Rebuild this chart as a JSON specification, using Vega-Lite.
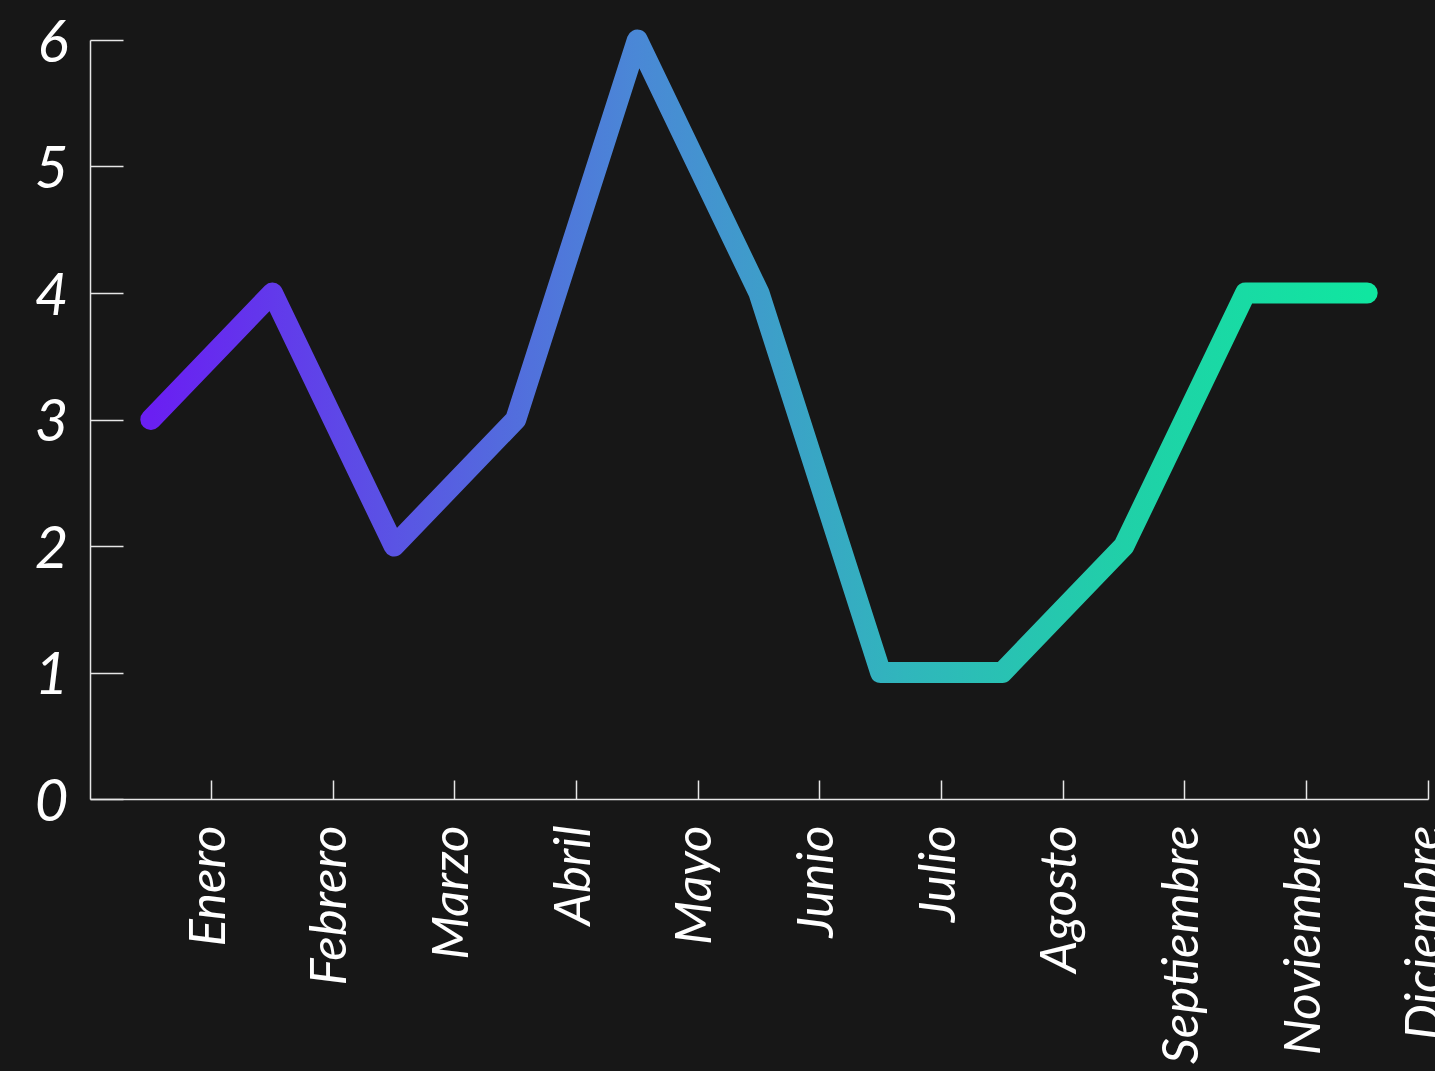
{
  "$schema": "https://vega.github.io/schema/vega-lite/v6.json",
  "autosize": {"type": "none"},
  "width": 1338,
  "height": 759,
  "padding": {"left": 90, "top": 40, "right": 7, "bottom": 272},
  "background": "#171717",
  "config": {
    "view": {"stroke": null},
    "axis": {"grid": false, "labelFont": "Lato", "labelFontStyle": "italic", "labelColor": "#ffffff", "domainColor": "#e6e6e6", "tickColor": "#e6e6e6", "domainWidth": 1.5, "tickWidth": 1.5, "title": null}
  },
  "data": {
    "values": [
      {"mes": "Enero", "valor": 3},
      {"mes": "Febrero", "valor": 4},
      {"mes": "Marzo", "valor": 2},
      {"mes": "Abril", "valor": 3},
      {"mes": "Mayo", "valor": 6},
      {"mes": "Junio", "valor": 4},
      {"mes": "Julio", "valor": 1},
      {"mes": "Agosto", "valor": 1},
      {"mes": "Septiembre", "valor": 2},
      {"mes": "Noviembre", "valor": 4},
      {"mes": "Diciembre", "valor": 4}
    ]
  },
  "mark": {
    "type": "line",
    "strokeWidth": 21,
    "strokeCap": "round",
    "strokeJoin": "round",
    "stroke": {
      "gradient": "linear",
      "x1": 0, "y1": 0, "x2": 1, "y2": 0,
      "stops": [
        {"offset": 0, "color": "#6a1ff2"},
        {"offset": 0.4, "color": "#4a88d6"},
        {"offset": 0.62, "color": "#30b6bc"},
        {"offset": 0.8, "color": "#20d0a8"},
        {"offset": 1, "color": "#10e6a0"}
      ]
    }
  },
  "encoding": {
    "x": {
      "field": "mes",
      "type": "ordinal",
      "bandPosition": 0.5,
      "sort": ["Enero", "Febrero", "Marzo", "Abril", "Mayo", "Junio", "Julio", "Agosto", "Septiembre", "Noviembre", "Diciembre"],
      "scale": {"type": "band", "paddingInner": 0, "paddingOuter": 0},
      "axis": {"bandPosition": 1, "tickSize": -19, "labelAngle": -90, "labelAlign": "right", "labelBaseline": "middle", "labelFontSize": 51, "labelPadding": 45, "labelOffset": 59, "labelLimit": 0, "labelOverlap": false, "labelBound": false, "labelFlush": false}
    },
    "y": {
      "field": "valor",
      "type": "quantitative",
      "scale": {"domain": [0, 6], "nice": false},
      "axis": {"values": [0, 1, 2, 3, 4, 5, 6], "tickSize": -33, "labelFontSize": 58, "labelPadding": 55, "labelOffset": 4, "labelOverlap": false, "labelFlush": false}
    }
  }
}
